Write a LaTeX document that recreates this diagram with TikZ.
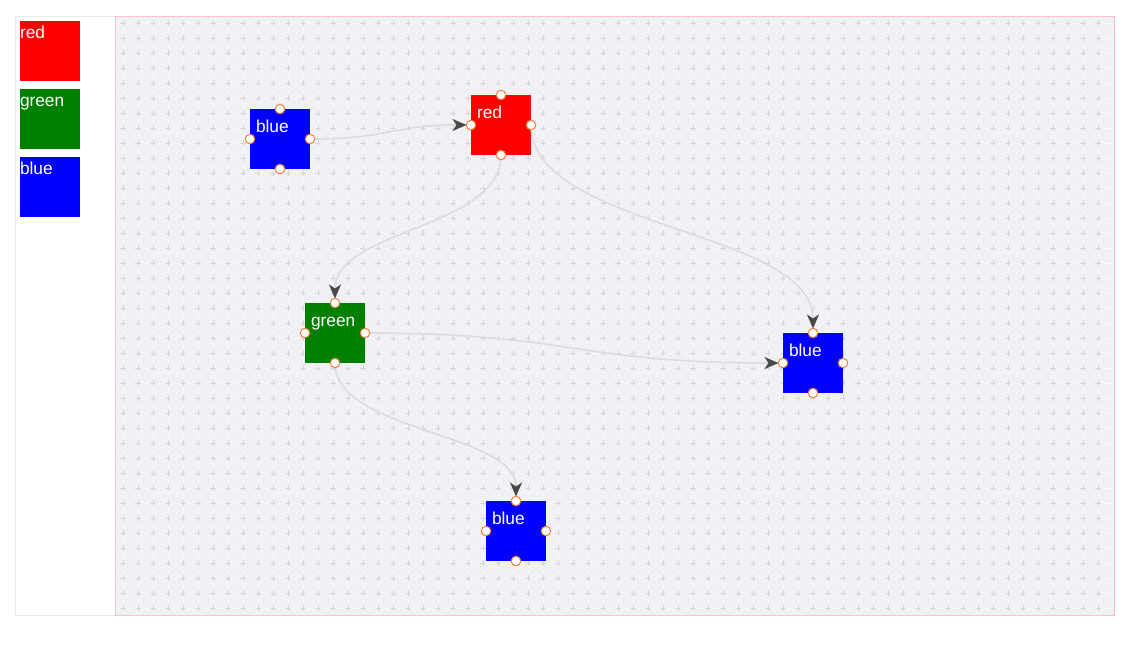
\documentclass[tikz,border=0pt]{standalone}
\usepackage{fontspec}
\setmainfont{Liberation Sans}
\usetikzlibrary{arrows.meta}
\definecolor{canvasbg}{RGB}{240,241,245}
\definecolor{crossc}{RGB}{214,214,218}
\definecolor{pinkb}{RGB}{255,192,203}
\definecolor{panelb}{RGB}{234,234,234}
\definecolor{edgec}{RGB}{220,220,220}
\definecolor{arrowc}{RGB}{72,72,72}
\definecolor{portc}{RGB}{238,130,60}
\definecolor{nred}{RGB}{255,0,0}
\definecolor{ngreen}{RGB}{0,128,0}
\definecolor{nblue}{RGB}{0,0,255}
\tikzset{
  box/.style={rectangle, minimum width=60pt, minimum height=60pt, inner sep=0pt, outer sep=0pt, draw=none},
  lbl/.style={anchor=base west, inner sep=0pt, outer sep=0pt, text=white, font=\fontsize{17.3}{17}\selectfont},
  port/.style={circle, draw=portc, fill=white, line width=1pt, minimum size=9.5pt, inner sep=0pt},
  edge/.style={draw=edgec, line width=1.6pt, shorten >=4.5pt,
    -{Stealth[length=14pt, width=12pt, inset=4pt, color=arrowc, fill=arrowc]}},
  crossmark/.style={draw=crossc, line width=1.3pt},
}
\begin{document}
\begin{tikzpicture}[x=1pt, y=-1pt]
\useasboundingbox (0,0) rectangle (1140,645);
\fill[white] (0,0) rectangle (1140,645);
% left panel
\draw[panelb, fill=white, line width=0.8pt] (15.5,16.5) rectangle (115.5,615.5);
% canvas
\fill[canvasbg] (115.5,16.5) rectangle (1114.5,615.5);
\foreach \i in {0,...,65} {
  \draw[white, dotted, line width=0.5pt] (123.33+15*\i,17) -- (123.33+15*\i,615);
}
\foreach \j in {0,...,39} {
  \draw[white, dotted, line width=0.5pt] (116,23.33+15*\j) -- (1114,23.33+15*\j);
}
\foreach \i in {0,...,65} {
  \foreach \j in {0,...,39} {
    \draw[crossmark] (120.33+15*\i,23.33+15*\j) -- (126.33+15*\i,23.33+15*\j)
                     (123.33+15*\i,20.33+15*\j) -- (123.33+15*\i,26.33+15*\j);
  }
}
\draw[pinkb, line width=1pt] (115.5,16.5) rectangle (1114.5,615.5);
% palette
\node[box, fill=nred] (pr) at (50,51) {};
\node[box, fill=ngreen] (pg) at (50,119) {};
\node[box, fill=nblue] (pb) at (50,187) {};
\node[lbl] (prl) at ([shift={(0,17.3)}]pr.north west) {red};
\node[lbl] (pgl) at ([shift={(0,17.3)}]pg.north west) {green};
\node[lbl] (pbl) at ([shift={(0,17.3)}]pb.north west) {blue};
% nodes
\node[box, fill=nblue] (b1) at (280,139) {};
\node[box, fill=nred] (r) at (501,125) {};
\node[box, fill=ngreen] (g) at (335,333) {};
\node[box, fill=nblue] (b2) at (813,363) {};
\node[box, fill=nblue] (b3) at (516,531) {};
\node[lbl] (b1l) at ([shift={(6,23)}]b1.north west) {blue};
\node[lbl] (rl) at ([shift={(6,23)}]r.north west) {red};
\node[lbl] (gl) at ([shift={(6,23)}]g.north west) {green};
\node[lbl] (b2l) at ([shift={(6,23)}]b2.north west) {blue};
\node[lbl] (b3l) at ([shift={(6,23)}]b3.north west) {blue};
% edges
\draw[edge] (b1.east) .. controls +(80,0) and +(-80,0) .. (r.west);
\draw[edge] (r.south) .. controls +(0,74) and +(0,-74) .. (g.north);
\draw[edge] (r.east) .. controls +(0,104) and +(0,-104) .. (b2.north);
\draw[edge] (g.east) .. controls +(209,0) and +(-209,0) .. (b2.west);
\draw[edge] (g.south) .. controls +(0,69) and +(0,-69) .. (b3.north);
% ports
\foreach \n in {b1,r,g,b2,b3} {
  \node[port] (\n-pn) at (\n.north) {};
  \node[port] (\n-pe) at (\n.east) {};
  \node[port] (\n-ps) at (\n.south) {};
  \node[port] (\n-pw) at (\n.west) {};
}
\end{tikzpicture}
\end{document}
